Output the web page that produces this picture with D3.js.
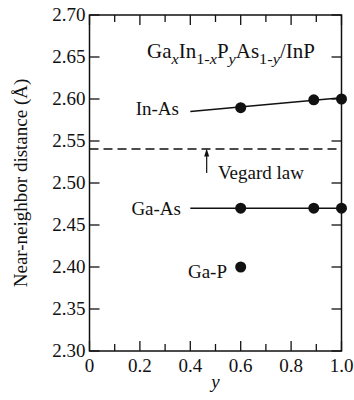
<!DOCTYPE html>
<html><head><meta charset="utf-8">
<script src="https://cdn.jsdelivr.net/npm/d3@7"></script>
<style>
html,body{margin:0;padding:0;background:#fff;}
text{font-family:"Liberation Serif","Times New Roman",serif;fill:#111;}
</style></head>
<body><svg id="c" width="354" height="400"></svg>
<script>
// ---- data ----
const yTicks = [2.30,2.35,2.40,2.45,2.50,2.55,2.60,2.65,2.70];
const xMajor = [0,0.2,0.4,0.6,0.8,1.0];
const xMinor = [0.1,0.3,0.5,0.7,0.9];
const inAsX = [0.6,0.89,1.0];
const inAsY = [2.5897,2.599,2.600];
const inAsFitX = [0.4,1.0];
const inAsFitY = [2.5850,2.6015];
const gaAsX = [0.6,0.89,1.0];
const gaAsY = [2.470,2.470,2.470];
const gaAsFitX = [0.4,1.0];
const gaAsFitY = [2.470,2.470];
const gaPX = [0.6];
const gaPY = [2.400];
const vegard = 2.5405;
const arrowX = 0.465;
const arrowY = [2.512,2.541];

const svg = d3.select("#c");
const L=89.5,R=341.5,T=15,B=351;
const x = d3.scaleLinear().domain([0,1]).range([L,R]);
const y = d3.scaleLinear().domain([2.30,2.70]).range([B,T]);
const fs = 19;

// ticks
const g = svg.append("g").attr("stroke","#111").attr("stroke-width",1.3);
yTicks.forEach(v=>{
  g.append("line").attr("x1",L).attr("x2",L+10).attr("y1",y(v)).attr("y2",y(v));
  g.append("line").attr("x1",R).attr("x2",R-10).attr("y1",y(v)).attr("y2",y(v));
});
xMajor.forEach(v=>{
  g.append("line").attr("x1",x(v)).attr("x2",x(v)).attr("y1",B).attr("y2",B-10);
  g.append("line").attr("x1",x(v)).attr("x2",x(v)).attr("y1",T).attr("y2",T+10);
});
xMinor.forEach(v=>{
  g.append("line").attr("x1",x(v)).attr("x2",x(v)).attr("y1",B).attr("y2",B-7);
  g.append("line").attr("x1",x(v)).attr("x2",x(v)).attr("y1",T).attr("y2",T+7);
});
svg.append("rect").attr("x",L).attr("y",T).attr("width",R-L).attr("height",B-T)
  .attr("fill","none").attr("stroke","#111").attr("stroke-width",1.5);

// tick labels
yTicks.forEach(v=>{
  svg.append("text").attr("x",L-4).attr("y",y(v)).attr("dy","0.3em")
    .attr("text-anchor","end").attr("font-size",fs).text(v.toFixed(2));
});
xMajor.forEach(v=>{
  svg.append("text").attr("x",x(v)).attr("y",372)
    .attr("text-anchor","middle").attr("font-size",fs).text(v===0?"0":v.toFixed(1));
});

// axis titles
svg.append("text").attr("transform",`translate(27,${(T+B)/2}) rotate(-90)`)
  .attr("text-anchor","middle").attr("font-size",fs).text("Near-neighbor distance (Å)");
svg.append("text").attr("x",(L+R)/2).attr("y",388).attr("text-anchor","middle")
  .attr("font-size",fs).attr("font-style","italic").text("y");

// vegard
svg.append("line").attr("x1",L).attr("x2",R).attr("y1",y(vegard)).attr("y2",y(vegard))
  .attr("stroke","#111").attr("stroke-width",1.5).attr("stroke-dasharray","9,5");
svg.append("line").attr("x1",x(arrowX)).attr("x2",x(arrowX)).attr("y1",y(arrowY[0])).attr("y2",y(arrowY[1])+6)
  .attr("stroke","#111").attr("stroke-width",1.2);
const ax=x(arrowX), ay=y(arrowY[1]);
svg.append("path").attr("d",`M${ax},${ay} L${ax-2.5},${ay+8} L${ax+2.5},${ay+8} Z`).attr("fill","#111");

// lines
const line = d3.line().x(d=>x(d[0])).y(d=>y(d[1]));
svg.append("path").attr("d",line(d3.zip(inAsFitX,inAsFitY))).attr("fill","none").attr("stroke","#111").attr("stroke-width",1.5);
svg.append("path").attr("d",line(d3.zip(gaAsFitX,gaAsFitY))).attr("fill","none").attr("stroke","#111").attr("stroke-width",1.5);

// points
const pts = [].concat(d3.zip(inAsX,inAsY),d3.zip(gaAsX,gaAsY),d3.zip(gaPX,gaPY));
svg.selectAll("circle.p").data(pts).enter().append("circle")
  .attr("cx",d=>x(d[0])).attr("cy",d=>y(d[1])).attr("r",5.5).attr("fill","#111");

// labels
svg.append("text").attr("x",179).attr("y",y(inAsFitY[0])+3).attr("text-anchor","end").attr("font-size",fs).text("In-As");
svg.append("text").attr("x",181).attr("y",y(2.470)+7).attr("text-anchor","end").attr("font-size",fs).text("Ga-As");
svg.append("text").attr("x",227).attr("y",y(2.400)+11).attr("text-anchor","end").attr("font-size",fs).text("Ga-P");
svg.append("text").attr("x",218).attr("y",179).attr("font-size",fs).text("Vegard law");

// title
const t = svg.append("text").attr("font-size",20);
const sub = 15.5, d = 5.5;
t.append("tspan").text("Ga");
t.append("tspan").attr("dy",d).attr("font-size",sub).attr("font-style","italic").text("x");
t.append("tspan").attr("dy",-d).text("In");
t.append("tspan").attr("dy",d).attr("font-size",sub).text("1-");
t.append("tspan").attr("font-size",sub).attr("font-style","italic").text("x");
t.append("tspan").attr("dy",-d).text("P");
t.append("tspan").attr("dy",d).attr("font-size",sub).attr("font-style","italic").text("y");
t.append("tspan").attr("dy",-d).text("As");
t.append("tspan").attr("dy",d).attr("font-size",sub).text("1-");
t.append("tspan").attr("font-size",sub).attr("font-style","italic").text("y");
t.append("tspan").attr("dy",-d).text("/InP");
const tw = t.node().getComputedTextLength();
t.attr("transform",`translate(147,58) scale(${168/tw},1)`);
</script></body></html>
